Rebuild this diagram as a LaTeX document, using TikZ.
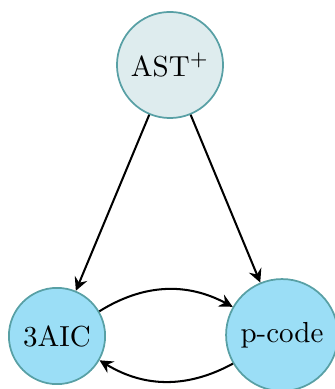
\documentclass[tikz,border=0pt]{standalone}
\usetikzlibrary{arrows.meta}
\definecolor{rimcol}{RGB}{88,160,165}
\definecolor{astfill}{RGB}{222,236,238}
\definecolor{bluefill}{RGB}{155,222,246}
\begin{document}
\begin{tikzpicture}[x=0.345pt,y=-0.345pt,
  state/.style={circle,draw=rimcol,line width=0.6pt,inner sep=0pt},
  conn/.style={-{Stealth[length=4.6pt,width=4.6pt,inset=1.6pt]},line width=0.7pt}]
\useasboundingbox (0,0) rectangle (334,389);
\node[state,fill=astfill,minimum size=36.6pt] (ast) at (170,65) {AST$^+$};
\node[state,fill=bluefill,minimum size=33.2pt] (aic) at (57,336) {3AIC};
\node[state,fill=bluefill,minimum size=38.6pt] (pc) at (282,335) {p-code};
\draw[conn] (ast) -- (aic);
\draw[conn] (ast) -- (pc);
\draw[conn] (aic) to[bend left=30] (pc);
\draw[conn] (pc) to[bend left=30] (aic);
\end{tikzpicture}
\end{document}
